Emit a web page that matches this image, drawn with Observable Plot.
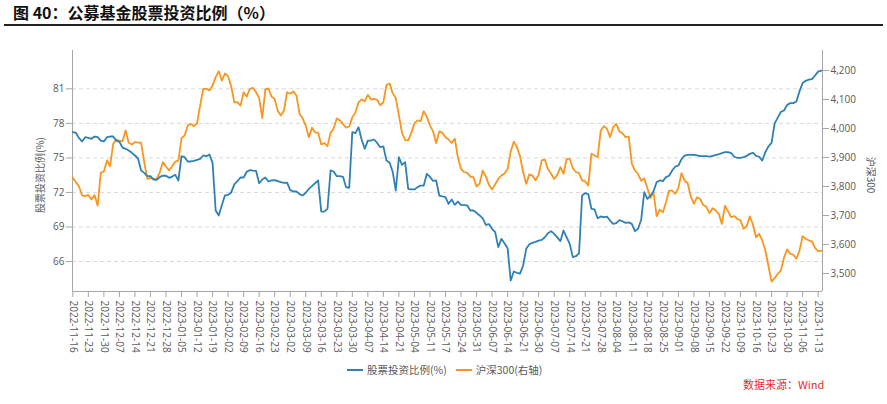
<!DOCTYPE html>
<html><head><meta charset="utf-8">
<script src="https://cdn.jsdelivr.net/npm/d3@7"></script>
<script src="https://cdn.jsdelivr.net/npm/@observablehq/plot@0.6"></script>
<style>
body{margin:0;background:#fff;}
#wrap{position:relative;width:887px;height:404px;overflow:hidden;font-family:'Open Sans','Noto Sans CJK SC',sans-serif;}
#chart{position:absolute;left:0;top:0;}
#title{position:absolute;left:13px;top:0px;font:bold 16px 'Noto Sans CJK SC',sans-serif;color:#111;white-space:nowrap;}
#hr{position:absolute;left:4px;top:24px;width:879px;height:2px;background:#222;}
.ytitle{position:absolute;font-size:10px;color:#595959;white-space:nowrap;font-family:'Noto Sans CJK SC',sans-serif;}
#legend{position:absolute;top:362px;left:347px;font-size:10.5px;color:#595959;white-space:nowrap;font-family:'Noto Sans CJK SC',sans-serif;display:flex;align-items:center;}
.sw{display:inline-block;width:16px;height:2px;margin-right:4px;}
#source{position:absolute;left:743px;top:376px;font-size:11px;color:#e0302b;font-family:'Noto Sans CJK SC',sans-serif;white-space:nowrap;}
</style></head>
<body>
<div id="wrap">
  <div id="chart"></div>
  <div id="title">图 40：公募基金股票投资比例（%）</div>
  <div id="hr"></div>
  <div class="ytitle" id="ylt" style="left:39px;top:175px;transform:translate(-50%,-50%) rotate(-90deg);">股票投资比例(%)</div>
  <div class="ytitle" id="yrt" style="left:871px;top:175px;transform:translate(-50%,-50%) rotate(90deg);">沪深300</div>
  <div id="legend"></div>
  <div id="source">数据来源：Wind</div>
</div>
<script>
const tickLabels = ["2022-11-16","2022-11-23","2022-11-30","2022-12-07","2022-12-14","2022-12-21","2022-12-28","2023-01-05","2023-01-12","2023-01-19","2023-02-02","2023-02-09","2023-02-16","2023-02-23","2023-03-02","2023-03-09","2023-03-16","2023-03-23","2023-03-30","2023-04-07","2023-04-14","2023-04-21","2023-05-04","2023-05-11","2023-05-17","2023-05-24","2023-05-31","2023-06-07","2023-06-14","2023-06-21","2023-06-30","2023-07-07","2023-07-14","2023-07-21","2023-07-28","2023-08-04","2023-08-11","2023-08-18","2023-08-25","2023-09-01","2023-09-08","2023-09-15","2023-09-22","2023-10-09","2023-10-16","2023-10-23","2023-10-30","2023-11-06","2023-11-13"];

const seriesNames = ["股票投资比例(%)", "沪深300(右轴)"];

// 股票投资比例(%) — daily values
const stockRatio = [
 77.24,77.18,76.72,76.43,76.80,76.74,76.66,76.86,76.80,76.50,
 76.43,76.80,76.86,76.86,76.50,76.40,75.90,75.79,75.64,75.44,
 75.21,74.95,73.91,73.70,73.41,73.41,73.12,73.10,73.33,73.47,
 73.45,73.27,73.38,73.53,73.04,75.15,75.06,74.69,74.69,74.74,
 74.83,74.92,75.21,75.15,75.30,74.57,70.43,70.00,70.90,
 71.75,71.79,72.00,72.70,72.98,73.30,73.30,73.80,73.94,73.90,
 73.88,72.80,73.12,73.30,72.95,73.04,73.07,72.98,72.89,72.83,
 72.86,72.20,72.08,72.08,71.85,71.73,71.97,72.31,72.55,72.80,
 73.05,70.34,70.34,70.58,73.91,73.82,73.41,73.41,73.36,72.46,
 72.40,77.24,77.15,77.67,76.60,75.79,76.50,76.51,
 76.60,76.30,75.93,76.00,74.77,74.60,73.80,72.17,75.06,74.40,
 74.63,72.31,72.26,72.26,72.46,72.60,72.60,73.62,73.35,73.00,
 73.04,71.73,71.65,71.59,71.01,71.39,70.92,71.21,70.92,70.90,
 70.87,70.43,70.43,70.23,70.00,69.75,69.19,69.25,68.84,68.55,
 67.25,67.97,67.59,67.16,64.35,65.13,65.02,64.95,
 65.65,67.10,67.50,67.62,67.70,67.82,67.88,68.11,68.45,68.64,
 68.40,68.10,67.77,68.69,68.11,67.53,66.38,66.46,66.70,71.73,
 71.94,71.85,70.58,70.52,69.76,69.91,69.85,69.90,69.56,69.27,
 69.33,69.60,69.50,69.36,69.40,69.27,68.64,68.84,69.60,72.02,
 71.44,71.73,72.10,72.90,73.04,72.98,73.33,73.45,
 73.90,74.25,74.34,74.90,75.20,75.27,75.27,75.27,75.21,75.15,
 75.15,75.15,75.12,75.18,75.25,75.32,75.42,75.50,75.50,75.41,
 75.10,75.01,75.01,75.06,75.18,75.35,75.45,75.18,75.10,74.77,
 75.50,76.00,76.30,78.00,78.50,79.00,79.12,79.60,79.76,79.76,
 79.90,80.80,81.50,81.70,81.80,81.85,82.16,82.50,82.59
];

// 沪深300 (right axis) — daily closes
const csi300 = [
 3830,3815,3800,3769,3767,3771,3755,3771,3734,3847,
 3852,3890,3870,3947,3962,3958,3956,3993,3951,3945,
 3953,3951,3951,3884,3826,3830,3826,3826,3849,3884,
 3869,3855,3870,3886,3889,3967,3976,4010,4016,4008,
 4018,4079,4137,4137,4131,4148,4177,4198,4165,
 4190,4180,4145,4090,4091,4079,4125,4110,4137,4140,
 4125,4105,4036,4135,4138,4110,4102,4060,4045,4062,
 4125,4120,4128,4114,4051,4035,4010,3970,4003,3987,
 3985,3945,3950,3939,3985,4000,4035,4028,4015,4003,
 4007,4039,4055,4090,4100,4094,4116,4100,
 4102,4099,4080,4091,4150,4155,4122,4105,4045,3985,
 3960,3959,3985,4018,4028,4025,4060,4040,4010,3990,
 3950,3990,3985,3970,3962,3950,3965,3900,3860,3850,
 3847,3834,3832,3800,3810,3855,3835,3805,3790,3808,
 3826,3838,3845,3860,3920,3955,3935,3905,
 3850,3809,3842,3838,3821,3841,3890,3893,3860,3844,
 3826,3840,3867,3844,3895,3895,3863,3850,3846,3821,
 3818,3803,3913,3907,3901,3993,4008,3999,3970,4005,
 4016,3990,3983,3970,3972,3878,3856,3843,3820,3828,
 3795,3760,3780,3697,3720,3711,3746,3786,
 3786,3775,3795,3846,3820,3811,3765,3740,3763,3757,
 3736,3730,3708,3725,3717,3706,3671,3734,3714,3694,
 3698,3688,3683,3654,3664,3697,3669,3625,3637,3614,
 3580,3525,3472,3484,3499,3510,3555,3583,3568,3564,
 3551,3579,3629,3620,3614,3611,3588,3577,3578
];

const leftTicks = [66, 69, 72, 75, 78, 81];
const rightTicks = [3500, 3600, 3700, 3800, 3900, 4000, 4100, 4200];
const tickStep = 5;

const blue = "#2f80b4";
const orange = "#f8961e";
const axisColor = "#a6a6a6";
const textColor = "#595959";

const xDomain = [-0.1, stockRatio.length - 0.6];
const yDomain = [63.394, 84.332];
const rightDomain = [3437.9, 4269.0];
const toLeft = d3.scaleLinear().domain(rightDomain).range(yDomain);

const ratioData = stockRatio.map((v, i) => ({i, v}));
const csiData = csi300.map((v, i) => ({i, v: toLeft(v)}));
const xTicks = tickLabels.map((_, k) => k * tickStep);

const chart = Plot.plot({
  width: 887,
  height: 404,
  marginLeft: 72,
  marginRight: 65,
  marginTop: 50,
  marginBottom: 113,
  x: {domain: xDomain},
  y: {domain: yDomain},
  style: {fontFamily: "'Open Sans','Noto Sans CJK SC',sans-serif", fontSize: "10px", background: "transparent", overflow: "visible"},
  marks: [
    Plot.gridY(leftTicks, {stroke: "#d9d9d9", strokeOpacity: 1, strokeDasharray: "4,3"}),
    Plot.ruleX(xDomain, {stroke: axisColor}),
    Plot.ruleY([yDomain[0]], {stroke: axisColor}),
    Plot.axisY(leftTicks, {anchor: "left", tickSize: 6, tickPadding: 2, label: null, stroke: axisColor, color: textColor, fill: textColor}),
    Plot.axisY(rightTicks.map(toLeft), {anchor: "right", tickSize: 6, tickPadding: 2, label: null, stroke: axisColor, color: textColor, fill: textColor,
      tickFormat: d => d3.format(",")(Math.round(toLeft.invert(d) / 10) * 10)}),
    Plot.axisX(xTicks, {tickFormat: i => tickLabels[i / tickStep], tickRotate: 90, tickSize: 6, tickPadding: 3, label: null, stroke: axisColor, color: textColor, fill: textColor}),
    Plot.line(csiData, {x: "i", y: "v", stroke: orange, strokeWidth: 1.8}),
    Plot.line(ratioData, {x: "i", y: "v", stroke: blue, strokeWidth: 1.8})
  ]
});
document.getElementById("chart").appendChild(chart);

const legend = document.getElementById("legend");
[[seriesNames[0], blue], [seriesNames[1], orange]].forEach(([name, c], k) => {
  const item = document.createElement("span");
  item.style.display = "inline-flex";
  item.style.alignItems = "center";
  item.style.marginRight = k === 0 ? "9px" : "0";
  item.innerHTML = `<span class="sw" style="background:${c}"></span><span>${name}</span>`;
  legend.appendChild(item);
});
</script>
</body></html>
